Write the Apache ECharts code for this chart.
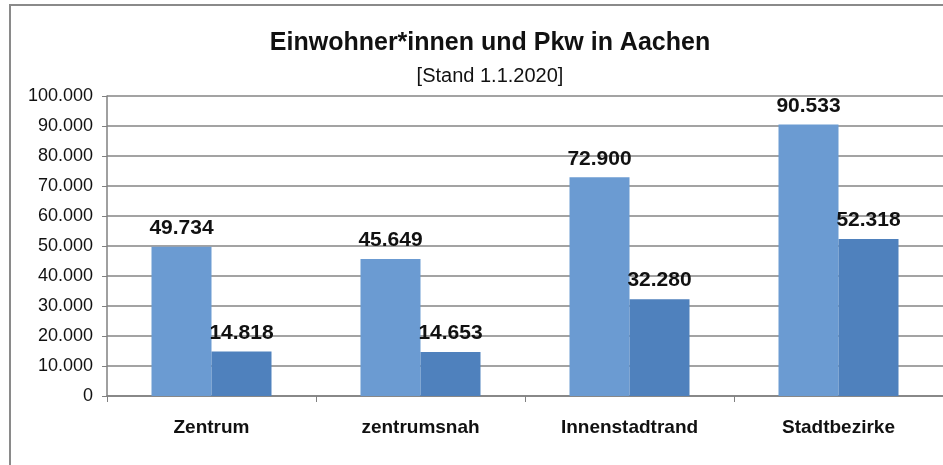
<!DOCTYPE html>
<html><head><meta charset="utf-8">
<script src="https://cdn.jsdelivr.net/npm/echarts@6/dist/echarts.min.js"></script>
<style>html,body{margin:0;padding:0;background:#fff}#c{width:943px;height:465px}</style>
</head><body><div id="c"></div>
<script>
const categories = ["Zentrum", "zentrumsnah", "Innenstadtrand", "Stadtbezirke"];
const einwohner = [49734, 45649, 72900, 90533];
const pkw = [14818, 14653, 32280, 52318];
const titleText = "Einwohner*innen und Pkw in Aachen";
const subtitleText = "[Stand 1.1.2020]";

function fmt(v){ return String(v).replace(/\B(?=(\d{3})+(?!\d))/g, "."); }
const FONT = "'Liberation Sans Narrow', 'Arial Narrow', 'Liberation Sans', Arial, sans-serif";
const chart = echarts.init(document.getElementById('c'));
const labelCfg = {show:true, position:'top', distance:8, fontFamily:FONT, fontSize:21, fontWeight:'bold', color:'#111', formatter:p=>fmt(p.value)};
chart.setOption({
  animation:false,
  backgroundColor:'#fff',
  graphic:[{type:'rect', shape:{x:10, y:5, width:940, height:470}, style:{fill:'none', stroke:'#8a8a8a', lineWidth:2}}],
  title:{text:titleText, subtext:subtitleText, left:485, textAlign:'center', top:26, itemGap:10,
    textStyle:{fontFamily:FONT, fontSize:25, fontWeight:'bold', color:'#111'},
    subtextStyle:{fontFamily:FONT, fontSize:20, color:'#111'}},
  grid:{left:107, right:-4, top:96, bottom:69, containLabel:false},
  xAxis:{type:'category', data:categories,
    axisLine:{lineStyle:{color:'#808080', width:1.5}},
    axisTick:{show:true, length:6, lineStyle:{color:'#808080'}},
    axisLabel:{fontFamily:FONT, fontSize:19, fontWeight:'bold', color:'#111', margin:22}},
  yAxis:{type:'value', min:0, max:100000, interval:10000,
    axisLine:{show:true, lineStyle:{color:'#808080', width:1.5}},
    axisTick:{show:true, length:5, lineStyle:{color:'#808080'}},
    splitLine:{lineStyle:{color:'#858585', width:1.5}},
    axisLabel:{fontFamily:FONT, fontSize:18, color:'#111', margin:14, formatter:v=>fmt(v)}},
  series:[
    {type:'bar', name:'Einwohner*innen', data:einwohner, barWidth:60, barGap:'0%', itemStyle:{color:'#6b9bd2'}, label:labelCfg},
    {type:'bar', name:'Pkw', data:pkw, barWidth:60, itemStyle:{color:'#4f81bd'}, label:labelCfg}
  ]
});
</script></body></html>
